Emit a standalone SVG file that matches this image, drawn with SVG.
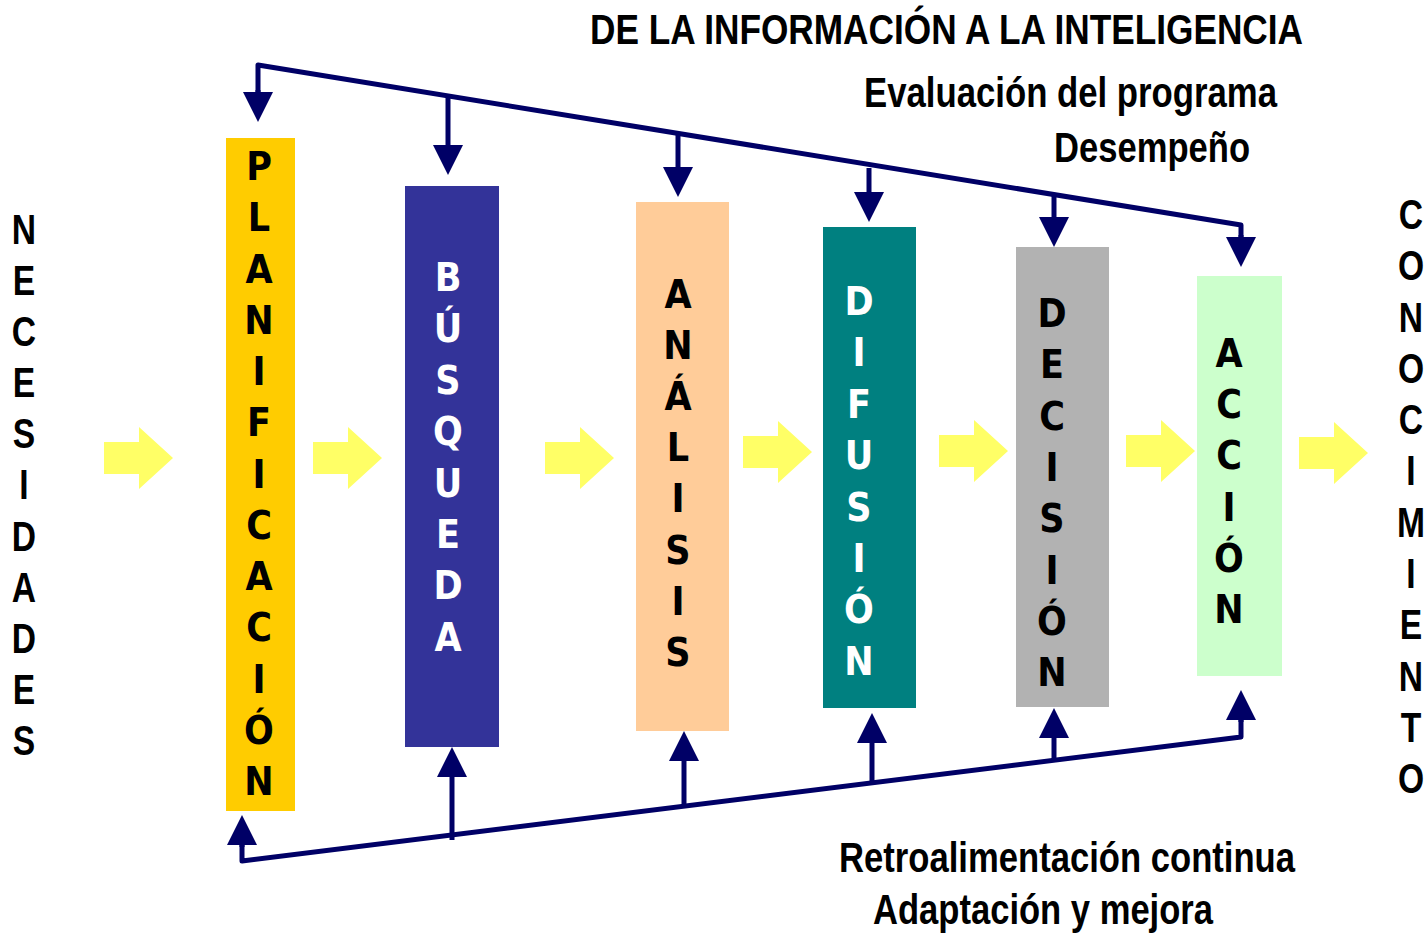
<svg xmlns="http://www.w3.org/2000/svg" width="1428" height="933" viewBox="0 0 1428 933">
<defs>
<marker id="ah" viewBox="0 0 30 30" refX="0" refY="15" markerWidth="30" markerHeight="30" markerUnits="userSpaceOnUse" orient="auto">
<path d="M0,0 L30,15 L0,30 z" fill="#000066"/>
</marker>
<style>
.ln{stroke:#000066;stroke-width:5;fill:none;stroke-linejoin:round}
.ar{stroke:#000066;stroke-width:5;fill:none;marker-end:url(#ah)}
.ya{fill:#FFFF66}
.bx{font-family:"DejaVu Sans Condensed","DejaVu Sans",sans-serif;font-stretch:condensed;font-weight:bold;font-size:39px;text-anchor:middle}
.ot{font-family:"Liberation Sans",Arial,sans-serif;font-weight:bold;font-size:42px;text-anchor:middle}
.lb{font-family:"Liberation Sans",Arial,sans-serif;font-weight:bold;font-size:42px}
</style>
</defs>
<rect width="1428" height="933" fill="#ffffff"/>

<g id="title">
<text class="lb" x="590" y="44" textLength="713" lengthAdjust="spacingAndGlyphs">DE LA INFORMACIÓN A LA INTELIGENCIA</text>
<text class="lb" x="864" y="107" textLength="413" lengthAdjust="spacingAndGlyphs">Evaluación del programa</text>
<text class="lb" x="1054" y="162" textLength="196" lengthAdjust="spacingAndGlyphs">Desempeño</text>
<text class="lb" x="839" y="872" textLength="456" lengthAdjust="spacingAndGlyphs">Retroalimentación continua</text>
<text class="lb" x="873" y="924" textLength="340" lengthAdjust="spacingAndGlyphs">Adaptación y mejora</text>
</g>

<g id="necesidades" transform="translate(24,0) scale(0.8,1)">
<text class="ot" y="244"><tspan x="0">N</tspan><tspan x="0" dy="51.1">E</tspan><tspan x="0" dy="51.1">C</tspan><tspan x="0" dy="51.1">E</tspan><tspan x="0" dy="51.1">S</tspan><tspan x="0" dy="51.1">I</tspan><tspan x="0" dy="51.1">D</tspan><tspan x="0" dy="51.1">A</tspan><tspan x="0" dy="51.1">D</tspan><tspan x="0" dy="51.1">E</tspan><tspan x="0" dy="51.1">S</tspan></text>
</g>

<g id="conocimiento" transform="translate(1411,0) scale(0.8,1)">
<text class="ot" y="229"><tspan x="0">C</tspan><tspan x="0" dy="51.3">O</tspan><tspan x="0" dy="51.3">N</tspan><tspan x="0" dy="51.3">O</tspan><tspan x="0" dy="51.3">C</tspan><tspan x="0" dy="51.3">I</tspan><tspan x="0" dy="51.3">M</tspan><tspan x="0" dy="51.3">I</tspan><tspan x="0" dy="51.3">E</tspan><tspan x="0" dy="51.3">N</tspan><tspan x="0" dy="51.3">T</tspan><tspan x="0" dy="51.3">O</tspan></text>
</g>

<g id="planificacion">
<rect x="226" y="138" width="69" height="673" fill="#FFCC00"/>
<text class="bx" y="180" fill="#000000"><tspan x="259">P</tspan><tspan x="259" dy="51.25">L</tspan><tspan x="259" dy="51.25">A</tspan><tspan x="259" dy="51.25">N</tspan><tspan x="259" dy="51.25">I</tspan><tspan x="259" dy="51.25">F</tspan><tspan x="259" dy="51.25">I</tspan><tspan x="259" dy="51.25">C</tspan><tspan x="259" dy="51.25">A</tspan><tspan x="259" dy="51.25">C</tspan><tspan x="259" dy="51.25">I</tspan><tspan x="259" dy="51.25">Ó</tspan><tspan x="259" dy="51.25">N</tspan></text>
</g>

<g id="busqueda">
<rect x="405" y="186" width="94" height="561" fill="#333399"/>
<text class="bx" y="291" fill="#FFFFFF"><tspan x="448">B</tspan><tspan x="448" dy="51.4">Ú</tspan><tspan x="448" dy="51.4">S</tspan><tspan x="448" dy="51.4">Q</tspan><tspan x="448" dy="51.4">U</tspan><tspan x="448" dy="51.4">E</tspan><tspan x="448" dy="51.4">D</tspan><tspan x="448" dy="51.4">A</tspan></text>
</g>

<g id="analisis">
<rect x="636" y="202" width="93" height="529" fill="#FFCC99"/>
<text class="bx" y="308" fill="#000000"><tspan x="678">A</tspan><tspan x="678" dy="51.1">N</tspan><tspan x="678" dy="51.1">Á</tspan><tspan x="678" dy="51.1">L</tspan><tspan x="678" dy="51.1">I</tspan><tspan x="678" dy="51.1">S</tspan><tspan x="678" dy="51.1">I</tspan><tspan x="678" dy="51.1">S</tspan></text>
</g>

<g id="difusion">
<rect x="823" y="227" width="93" height="481" fill="#008080"/>
<text class="bx" y="315" fill="#FFFFFF"><tspan x="859">D</tspan><tspan x="859" dy="51.4">I</tspan><tspan x="859" dy="51.4">F</tspan><tspan x="859" dy="51.4">U</tspan><tspan x="859" dy="51.4">S</tspan><tspan x="859" dy="51.4">I</tspan><tspan x="859" dy="51.4">Ó</tspan><tspan x="859" dy="51.4">N</tspan></text>
</g>

<g id="decision">
<rect x="1016" y="247" width="93" height="460" fill="#B2B2B2"/>
<text class="bx" y="327" fill="#000000"><tspan x="1052">D</tspan><tspan x="1052" dy="51.3">E</tspan><tspan x="1052" dy="51.3">C</tspan><tspan x="1052" dy="51.3">I</tspan><tspan x="1052" dy="51.3">S</tspan><tspan x="1052" dy="51.3">I</tspan><tspan x="1052" dy="51.3">Ó</tspan><tspan x="1052" dy="51.3">N</tspan></text>
</g>

<g id="accion">
<rect x="1197" y="276" width="85" height="400" fill="#CCFFCC"/>
<text class="bx" y="367" fill="#000000"><tspan x="1229">A</tspan><tspan x="1229" dy="51.2">C</tspan><tspan x="1229" dy="51.2">C</tspan><tspan x="1229" dy="51.2">I</tspan><tspan x="1229" dy="51.2">Ó</tspan><tspan x="1229" dy="51.2">N</tspan></text>
</g>

<g id="flow-arrows">
<polygon class="ya" points="104,442 139,442 139,427 173,458 139,489 139,474 104,474"/>
<polygon class="ya" points="313,442 348,442 348,427 382,458 348,489 348,474 313,474"/>
<polygon class="ya" points="545,442 580,442 580,427 614,458 580,489 580,474 545,474"/>
<polygon class="ya" points="743,436 778,436 778,421 812,452 778,483 778,468 743,468"/>
<polygon class="ya" points="939,435 974,435 974,420 1008,451 974,482 974,467 939,467"/>
<polygon class="ya" points="1126,435 1161,435 1161,420 1195,451 1161,482 1161,467 1126,467"/>
<polygon class="ya" points="1299,437 1334,437 1334,422 1368,453 1334,484 1334,469 1299,469"/>
</g>

<g id="connectors">
<polyline class="ln" points="258,92 258,65 1241,225 1241,237"/>
<line class="ar" x1="258" y1="90" x2="258" y2="92"/>
<line class="ar" x1="448" y1="96" x2="448" y2="145"/>
<line class="ar" x1="678" y1="133" x2="678" y2="167"/>
<line class="ar" x1="869" y1="168" x2="869" y2="192"/>
<line class="ar" x1="1054" y1="194" x2="1054" y2="217"/>
<line class="ar" x1="1241" y1="235" x2="1241" y2="237"/>

<polyline class="ln" points="242,845 242,861 1241,737 1241,720"/>
<line class="ar" x1="242" y1="847" x2="242" y2="845"/>
<line class="ar" x1="452" y1="840" x2="452" y2="777"/>
<line class="ar" x1="684" y1="806" x2="684" y2="761"/>
<line class="ar" x1="872" y1="782" x2="872" y2="743"/>
<line class="ar" x1="1054" y1="760" x2="1054" y2="738"/>
<line class="ar" x1="1241" y1="722" x2="1241" y2="720"/>
</g>
</svg>
